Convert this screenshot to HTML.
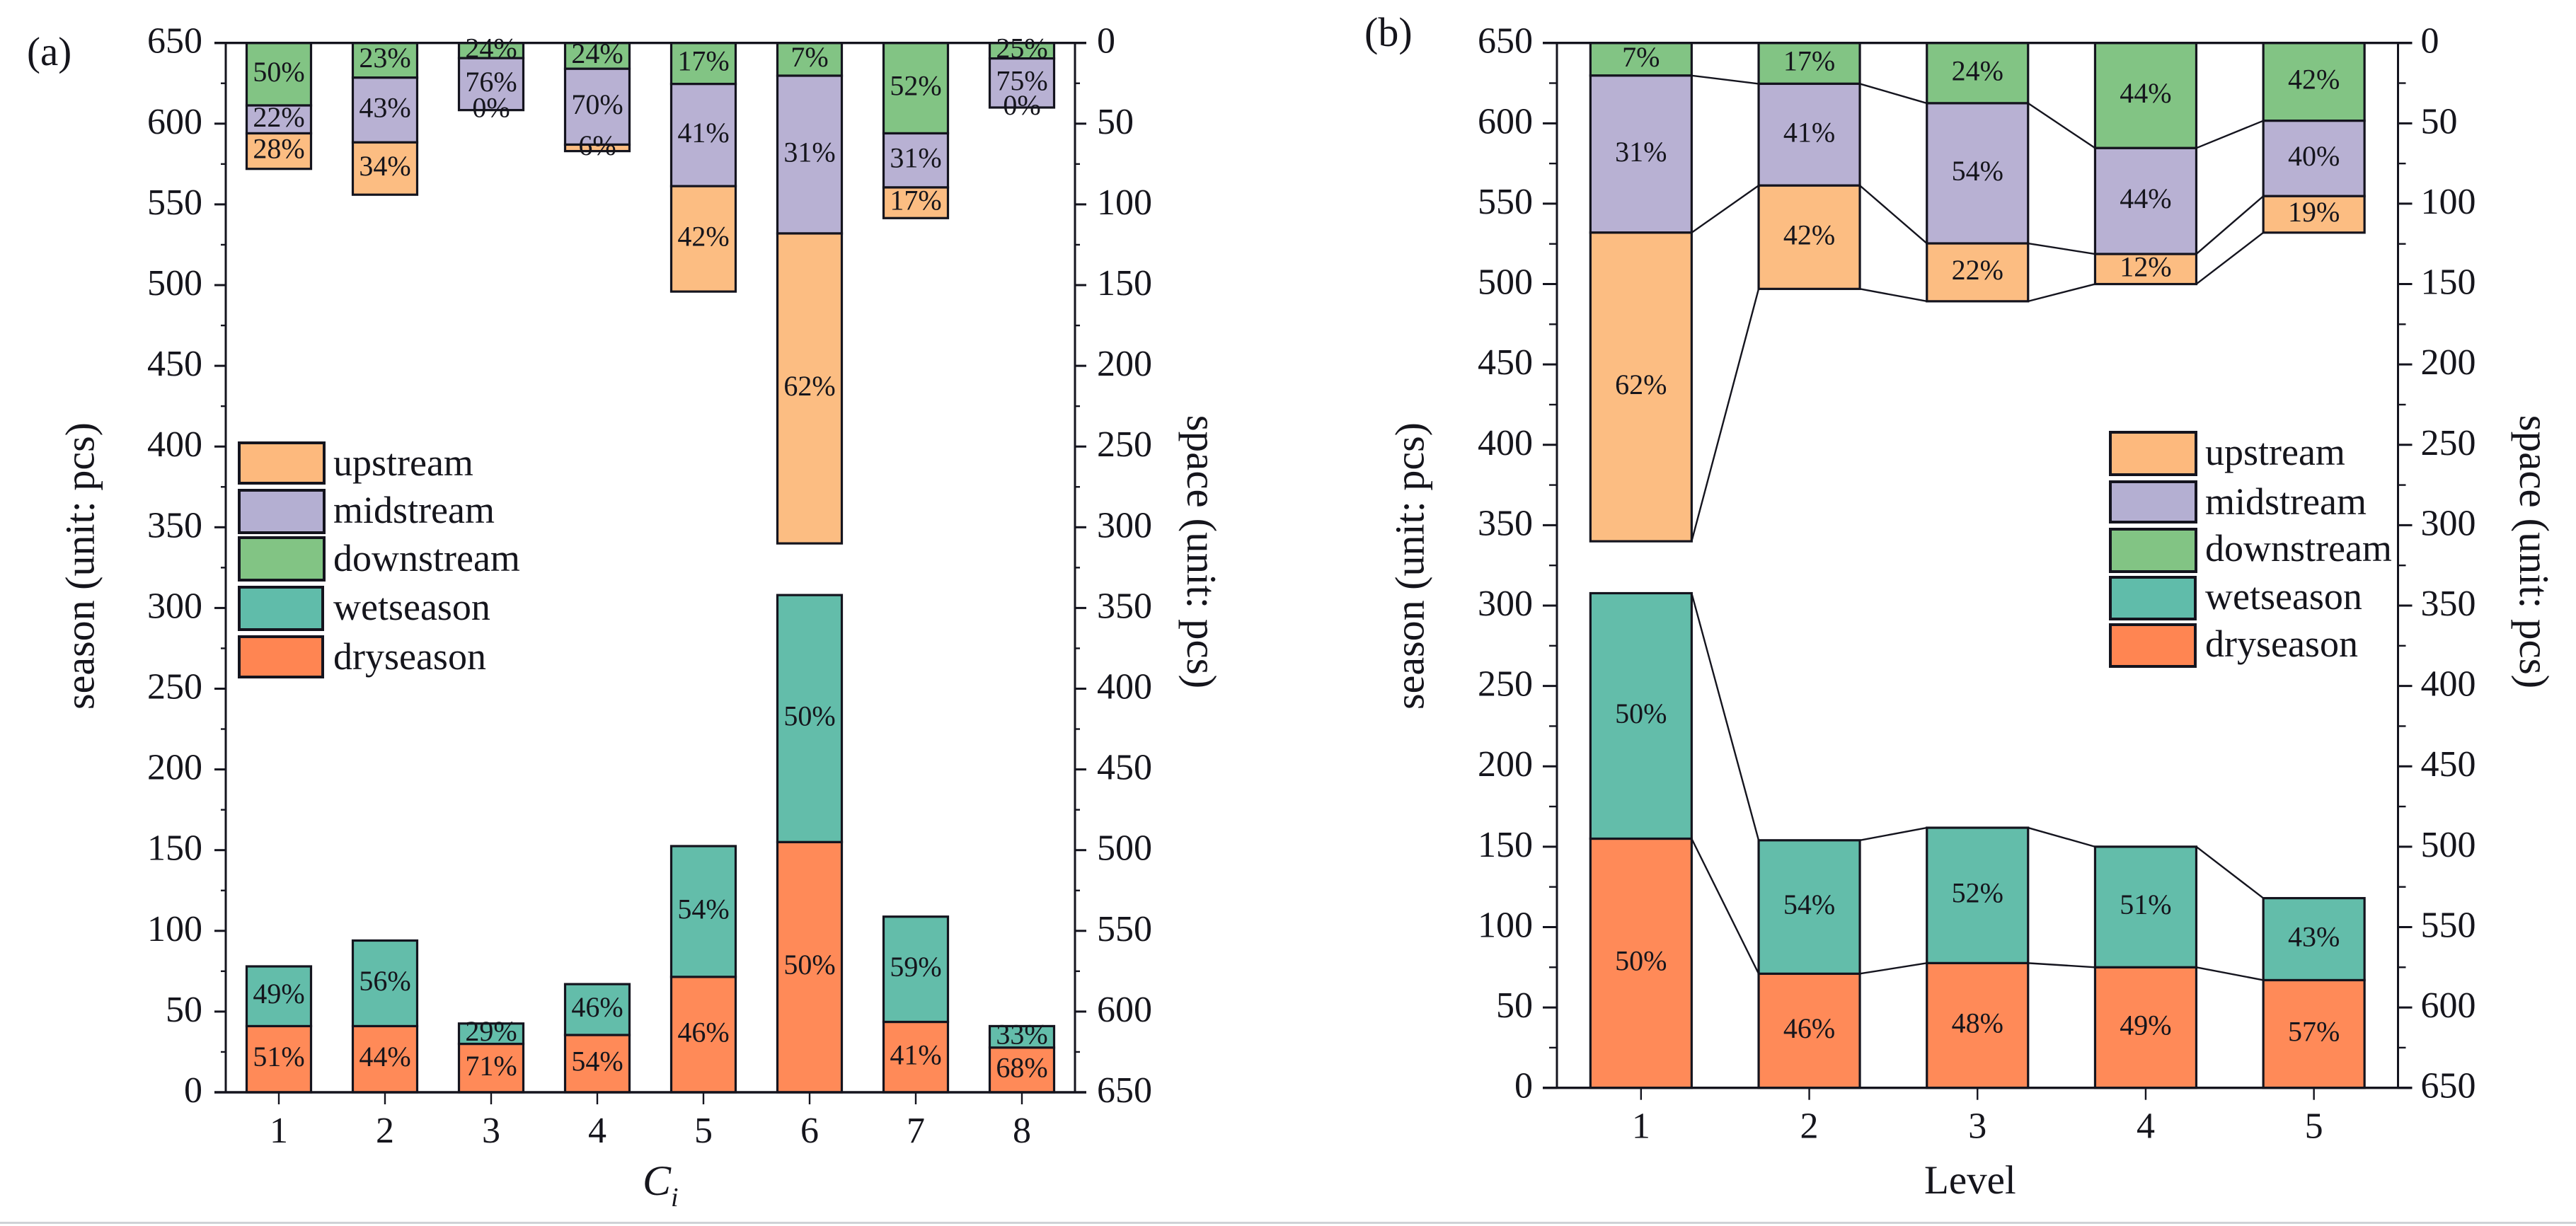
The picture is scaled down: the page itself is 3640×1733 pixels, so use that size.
<!DOCTYPE html>
<html lang="en">
<head>
<meta charset="utf-8">
<title>Stacked bar charts by season and space</title>
<style>
  html, body { margin: 0; padding: 0; background: #fff; }
  svg { display: block; }
  text { font-family: "Liberation Serif", serif; fill: #15151c; }
  .leg { font-size: 54px; }
  .sw { stroke: #14141e; stroke-width: 4; }
</style>
</head>
<body>
<svg id="chart" xmlns="http://www.w3.org/2000/svg" width="3640" height="1733" viewBox="0 0 3640 1733">
  <rect x="0" y="0" width="3640" height="1733" fill="#ffffff"/>
  <rect x="0" y="1727" width="3640" height="3" fill="#cfd2d6"/>

  <text x="38" y="92" font-size="57">(a)</text>
  <text x="1928" y="65" font-size="58">(b)</text>

  <g id="panel-a"></g>
  <g id="panel-b"></g>

  <text x="908" y="1689" font-size="60" font-style="italic">C<tspan font-size="38" dy="16">i</tspan></text>
  <text x="2719" y="1687" font-size="57">Level</text>
  <text transform="translate(113,800) rotate(-90)" text-anchor="middle" font-size="58" dominant-baseline="central">season (unit: pcs)</text>
  <text transform="translate(1698,780) rotate(90)" text-anchor="middle" font-size="59" dominant-baseline="central">space (unit: pcs)</text>
  <text transform="translate(1992,800) rotate(-90)" text-anchor="middle" font-size="58" dominant-baseline="central">season (unit: pcs)</text>
  <text transform="translate(3581,780) rotate(90)" text-anchor="middle" font-size="59" dominant-baseline="central">space (unit: pcs)</text>

  <g>
    <rect class="sw" x="338" y="626" width="120" height="57" fill="#fdb97d"/>
    <text class="leg" x="471" y="672">upstream</text>
    <rect class="sw" x="338" y="693" width="120" height="60" fill="#b4afd2"/>
    <text class="leg" x="471" y="739">midstream</text>
    <rect class="sw" x="338" y="760" width="120" height="60" fill="#82c484"/>
    <text class="leg" x="471" y="807">downstream</text>
    <rect class="sw" x="338" y="830" width="118" height="60" fill="#60bcaa"/>
    <text class="leg" x="471" y="876">wetseason</text>
    <rect class="sw" x="338" y="900" width="118" height="57" fill="#ff8552"/>
    <text class="leg" x="471" y="946">dryseason</text>
  </g>

  <g>
    <rect class="sw" x="2982" y="611" width="121" height="60" fill="#fdb97d"/>
    <text class="leg" x="3116" y="657">upstream</text>
    <rect class="sw" x="2982" y="681" width="121" height="57" fill="#b4afd2"/>
    <text class="leg" x="3116" y="727">midstream</text>
    <rect class="sw" x="2982" y="748" width="121" height="60" fill="#82c484"/>
    <text class="leg" x="3116" y="793">downstream</text>
    <rect class="sw" x="2982" y="816" width="120" height="59" fill="#60bcaa"/>
    <text class="leg" x="3116" y="861">wetseason</text>
    <rect class="sw" x="2982" y="883" width="120" height="59" fill="#ff8552"/>
    <text class="leg" x="3116" y="928">dryseason</text>
  </g>
</svg>

<script>
// ---- Shared axis tick labels ----
const leftTicks = [0, 50, 100, 150, 200, 250, 300, 350, 400, 450, 500, 550, 600, 650];
const rightTicks = [0, 50, 100, 150, 200, 250, 300, 350, 400, 450, 500, 550, 600, 650];

// ---- Panel (a): C_i categories ----
const categoriesA = ['1', '2', '3', '4', '5', '6', '7', '8'];
const dryA = [41, 41, 30, 35.5, 71.5, 155, 43.6, 27.7];
const wetA = [37, 53, 12.6, 31.5, 81, 153, 65.2, 13.3];
const downA = [38.7, 21.5, 9.4, 16, 25.4, 20.3, 56, 9.6];
const midA = [17.3, 40.1, 32.2, 47, 63.3, 97.7, 33.5, 30.4];
const upA = [22, 32.4, 0, 4, 65.3, 192, 19, 0];
const dryPctA = ['51%', '44%', '71%', '54%', '46%', '50%', '41%', '68%'];
const wetPctA = ['49%', '56%', '29%', '46%', '54%', '50%', '59%', '33%'];
const downPctA = ['50%', '23%', '24%', '24%', '17%', '7%', '52%', '25%'];
const midPctA = ['22%', '43%', '76%', '70%', '41%', '31%', '31%', '75%'];
const upPctA = ['28%', '34%', '0%', '6%', '42%', '62%', '17%', '0%'];

// ---- Panel (b): Level categories ----
const categoriesB = ['1', '2', '3', '4', '5'];
const dryB = [155, 71, 77.6, 75, 67];
const wetB = [152.7, 83, 84.2, 75, 51];
const downB = [20.3, 25.4, 37.5, 65.4, 48.4];
const midB = [97.7, 63.3, 87.2, 65.9, 46.9];
const upB = [192, 64.3, 36, 18.7, 22.7];
const dryPctB = ['50%', '46%', '48%', '49%', '57%'];
const wetPctB = ['50%', '54%', '52%', '51%', '43%'];
const downPctB = ['7%', '17%', '24%', '44%', '42%'];
const midPctB = ['31%', '41%', '54%', '44%', '40%'];
const upPctB = ['62%', '42%', '22%', '12%', '19%'];

const NS = 'http://www.w3.org/2000/svg';
const INK = '#14141e';
const COLORS = { dry: '#ff8a58', wet: '#63bdaa', down: '#82c484', mid: '#b8b1d3', up: '#fcbd82' };

function make(tag, parent, attrs) {
  const el = document.createElementNS(NS, tag);
  for (const k in attrs) el.setAttribute(k, attrs[k]);
  parent.appendChild(el);
  return el;
}

function drawPanel(opts) {
  const g = document.getElementById(opts.id);
  const pid = opts.suffix;
  const n = opts.categories.length;
  const maxV = 650;
  const xScale = function (i) { return opts.left + (opts.right - opts.left) * (i + 0.5) / n; };
  const yLeft = function (v) { return opts.bottom - (opts.bottom - opts.top) * v / maxV; };
  const yRight = function (v) { return opts.top + (opts.bottom - opts.top) * v / maxV; };
  const half = opts.barWidth / 2;

  // Stacked boundaries, cumulative from the data
  const lowerKeys = [['dry', opts.dry, opts.dryPct], ['wet', opts.wet, opts.wetPct]];
  const upperKeys = [['down', opts.down, opts.downPct], ['mid', opts.mid, opts.midPct], ['up', opts.up, opts.upPct]];

  const barsGroup = make('g', g, {});
  
  
  const labels = [];

  function stack(keys, scale, prefix) {
    const prevEdges = [];
    for (let i = 0; i < n; i++) {
      let cum = 0;
      const edges = [];
      keys.forEach(function (k) {
        const v = k[1][i];
        const y0 = scale(cum);
        const y1 = scale(cum + v);
        const rect = make('rect', barsGroup, {
          x: xScale(i) - half, y: Math.min(y0, y1), width: opts.barWidth,
          height: Math.abs(y1 - y0), fill: COLORS[k[0]], stroke: INK, 'stroke-width': 3.2
        });
        
        
        labels.push({ key: k[0], cat: opts.categories[i], x: xScale(i), y: (y0 + y1) / 2, text: k[2][i] });
        cum += v;
        edges.push(scale(cum));
      });
      if (opts.connect && i > 0) {
        edges.forEach(function (edge, e) {
          const line = make('line', barsGroup, {
            x1: xScale(i - 1) + half, y1: prevEdges[e], x2: xScale(i) - half, y2: edge,
            stroke: INK, 'stroke-width': 2.4
          });
          
          
        });
      }
      edges.forEach(function (edge, e) { prevEdges[e] = edge; });
    }
  }
  stack(lowerKeys, yLeft, 'season');
  stack(upperKeys, yRight, 'space');

  // Axes
  const xStart = opts.left - opts.tick;
  const xEnd = opts.right + opts.tick;
  const axisParts = [
    ['x-axis-top-line', xStart, opts.top, xEnd, opts.top, 3.4],
    ['x-axis-bottom-line', xStart, opts.bottom, xEnd, opts.bottom, 3.4],
    ['left-y-axis-line', opts.left, opts.top, opts.left, opts.bottom, 3],
    ['right-y-axis-line', opts.right, opts.top, opts.right, opts.bottom, 3]
  ];
  axisParts.forEach(function (p) {
    const line = make('line', g, { x1: p[1], y1: p[2], x2: p[3], y2: p[4], stroke: INK, 'stroke-width': p[5] });
    
    
  });

  // Left ticks
  leftTicks.forEach(function (v, idx) {
    const y = yLeft(v);
    const tick = make('line', g, { x1: opts.left - opts.tick, y1: y, x2: opts.left, y2: y, stroke: INK, 'stroke-width': 3 });
    
    
    const label = make('text', g, { x: opts.left - opts.labelGap, y: y + 14, 'text-anchor': 'end', 'font-size': 52 });
    
    
    label.textContent = String(v);
    if (idx < leftTicks.length - 1) {
      const ym = yLeft((v + leftTicks[idx + 1]) / 2);
      const minor = make('line', g, { x1: opts.left - opts.minor, y1: ym, x2: opts.left, y2: ym, stroke: INK, 'stroke-width': 2.4 });
      
      
    }
  });

  // Right ticks
  rightTicks.forEach(function (v, idx) {
    const y = yRight(v);
    const tick = make('line', g, { x1: opts.right, y1: y, x2: opts.right + opts.tick, y2: y, stroke: INK, 'stroke-width': 3 });
    
    
    const label = make('text', g, { x: opts.right + opts.labelGap - 2, y: y + 14, 'text-anchor': 'start', 'font-size': 52 });
    
    
    label.textContent = String(v);
    if (idx < rightTicks.length - 1) {
      const ym = yRight((v + rightTicks[idx + 1]) / 2);
      const minor = make('line', g, { x1: opts.right, y1: ym, x2: opts.right + opts.minor, y2: ym, stroke: INK, 'stroke-width': 2.4 });
      
      
    }
  });

  // X ticks
  opts.categories.forEach(function (c, i) {
    const x = xScale(i);
    const tick = make('line', g, { x1: x, y1: opts.bottom, x2: x, y2: opts.bottom + 17, stroke: INK, 'stroke-width': 2.4 });
    
    
    const label = make('text', g, { x: x, y: opts.bottom + 71, 'text-anchor': 'middle', 'font-size': 52 });
    
    
    label.textContent = c;
  });

  // Percent labels above the bars
  labels.forEach(function (l) {
    const t = make('text', g, { x: l.x, y: l.y + 10, 'text-anchor': 'middle', 'font-size': 40 });
    
    
    t.textContent = l.text;
  });
}

drawPanel({
  id: 'panel-a', suffix: 'a', left: 319, right: 1519, top: 60.7, bottom: 1544,
  barWidth: 91, tick: 16, minor: 7, labelGap: 33, connect: false,
  categories: categoriesA, dry: dryA, wet: wetA, down: downA, mid: midA, up: upA,
  dryPct: dryPctA, wetPct: wetPctA, downPct: downPctA, midPct: midPctA, upPct: upPctA
});

drawPanel({
  id: 'panel-b', suffix: 'b', left: 2200, right: 3388.5, top: 60.7, bottom: 1537.7,
  barWidth: 143, tick: 20, minor: 11, labelGap: 34, connect: true,
  categories: categoriesB, dry: dryB, wet: wetB, down: downB, mid: midB, up: upB,
  dryPct: dryPctB, wetPct: wetPctB, downPct: downPctB, midPct: midPctB, upPct: upPctB
});
</script>
</body>
</html>
